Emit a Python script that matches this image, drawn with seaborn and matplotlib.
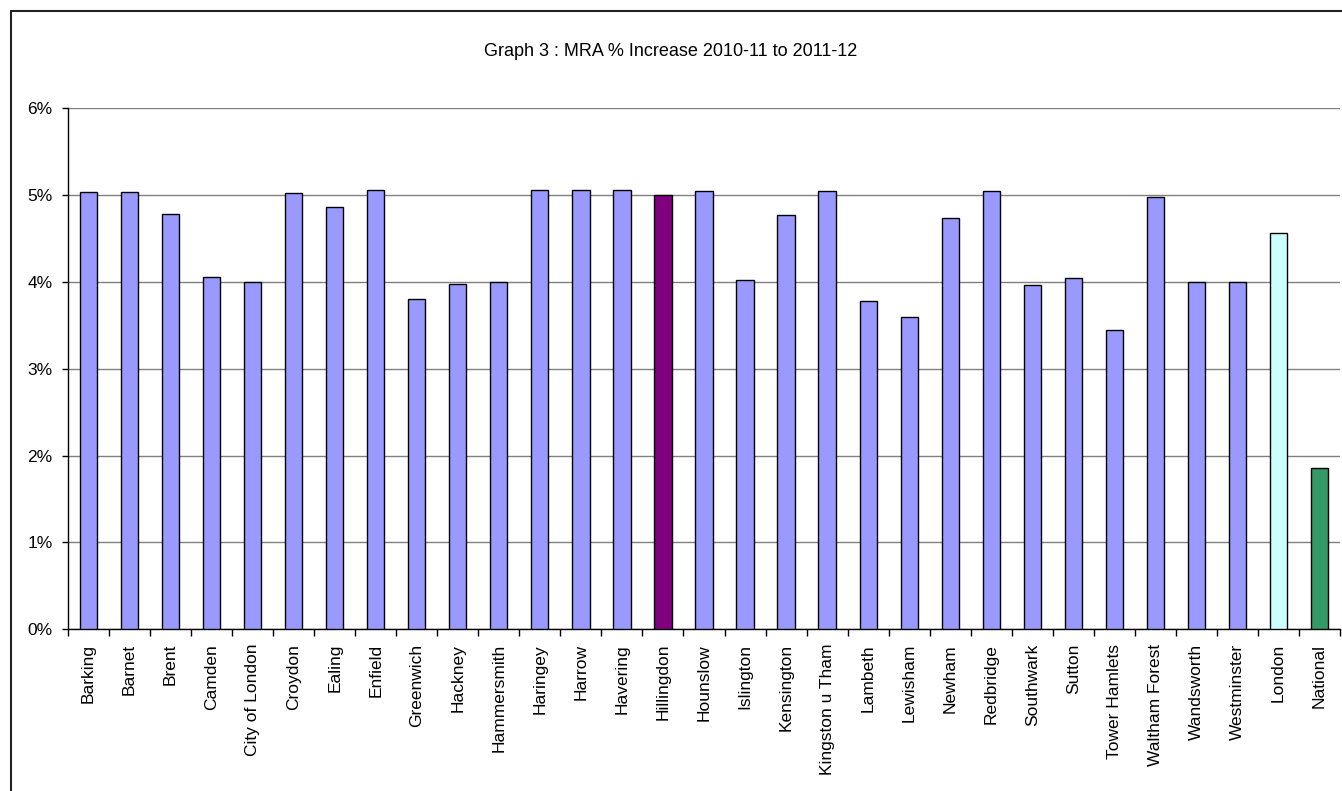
import matplotlib
matplotlib.use("Agg")
import matplotlib.pyplot as plt
import seaborn as sns
import pandas as pd
import numpy as np
from matplotlib.lines import Line2D
from matplotlib.ticker import FuncFormatter

categories = ["Barking", "Barnet", "Brent", "Camden", "City of London", "Croydon",
              "Ealing", "Enfield", "Greenwich", "Hackney", "Hammersmith", "Haringey",
              "Harrow", "Havering", "Hillingdon", "Hounslow", "Islington", "Kensington",
              "Kingston u Tham", "Lambeth", "Lewisham", "Newham", "Redbridge",
              "Southwark", "Sutton", "Tower Hamlets", "Waltham Forest", "Wandsworth",
              "Westminster", "London", "National"]
values = [5.035, 5.035, 4.785, 4.06, 4.00, 5.02,
          4.865, 5.06, 3.80, 3.98, 4.00, 5.06,
          5.06, 5.06, 5.00, 5.05, 4.02, 4.77,
          5.05, 3.78, 3.60, 4.74, 5.05,
          3.965, 4.05, 3.45, 4.98, 4.00,
          4.00, 4.56, 1.86]
bar_colors = ["#9999FF"] * 14 + ["#800080"] + ["#9999FF"] * 14 + ["#CCFFFF", "#339966"]
title = "Graph 3 : MRA % Increase 2010-11 to 2011-12"

sns.set_style("white")
plt.rcParams["font.family"] = ["Liberation Sans", "DejaVu Sans"]
plt.rcParams["text.color"] = "black"
plt.rcParams["xtick.color"] = "black"
plt.rcParams["ytick.color"] = "black"

W, H = 1342, 791
fig = plt.figure(figsize=(W / 100, H / 100), dpi=100)
ax = fig.add_axes([68 / W, 1 - 629.3 / H, (1340 - 68) / W, (629.3 - 108.3) / H])

df = pd.DataFrame({"cat": categories, "val": values})
palette = dict(zip(categories, bar_colors))
sns.barplot(data=df, x="cat", y="val", hue="cat", palette=palette, legend=False,
            width=0.42, edgecolor="black", linewidth=1.0, saturation=1, ax=ax, zorder=3)

ax.set_xlim(-0.5, len(categories) - 0.5)
ax.set_ylim(0, 6)
ax.set_yticks(np.arange(0, 7, 1))
ax.yaxis.set_major_formatter(FuncFormatter(lambda v, p: f"{int(round(v))}%"))
ax.yaxis.grid(True, color="#808080", linewidth=1.0, zorder=0)
ax.set_axisbelow(True)
ax.set_xlabel("")
ax.set_ylabel("")

ax.set_xticks(np.arange(len(categories)))
ax.set_xticklabels(categories, rotation=90, fontsize=12.5, color="black")
ax.set_xticks(np.arange(-0.5, len(categories)), minor=True)
ax.tick_params(axis="x", which="major", bottom=True, length=0, pad=10.5)
ax.tick_params(axis="x", which="minor", bottom=True, length=5, width=1, color="black",
               direction="out")
ax.tick_params(axis="y", which="major", left=True, length=4, width=1, color="black",
               direction="out", labelsize=12.5, labelcolor="black", pad=7)

for s in ["top", "right"]:
    ax.spines[s].set_visible(False)
for s in ["left", "bottom"]:
    ax.spines[s].set_color("black")
    ax.spines[s].set_linewidth(1.0)

fig.text(0.5, 1 - 52 / H, title, ha="center", va="center", fontsize=13, color="black")

# outer chart frame (cut off at right and bottom)
fig.add_artist(Line2D([11 / W, 1], [1 - 11 / H, 1 - 11 / H], color="#222222", linewidth=1.5,
                      transform=fig.transFigure))
fig.add_artist(Line2D([11 / W, 11 / W], [0, 1 - 11 / H], color="#222222", linewidth=1.5,
                      transform=fig.transFigure))

fig.savefig("out.png", dpi=100)
